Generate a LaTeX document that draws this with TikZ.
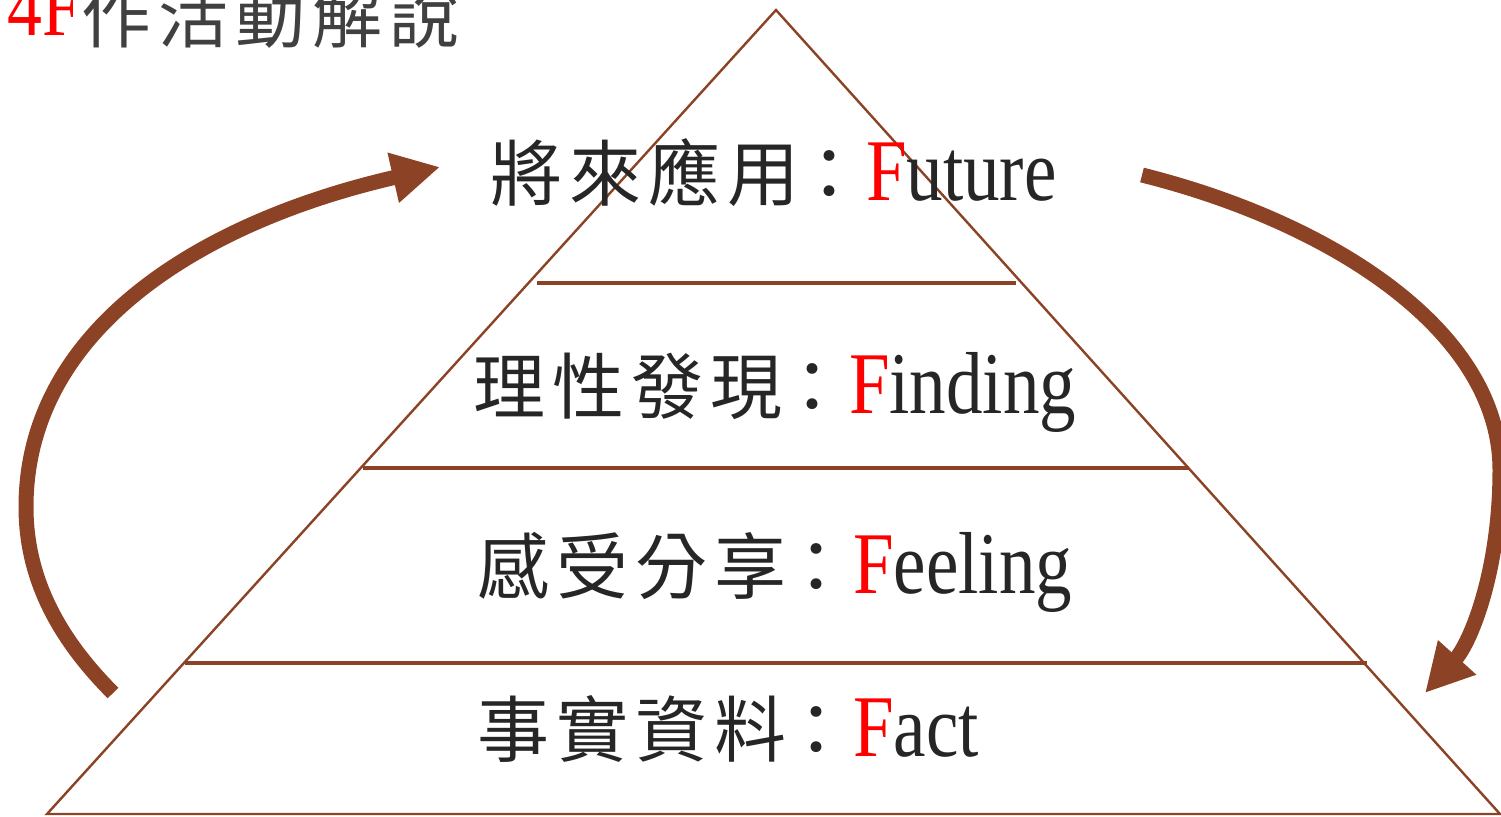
\documentclass[tikz,border=0pt]{standalone}
\usepackage{fontspec}
\setmainfont{Liberation Serif}[FakeStretch=0.83]
\newfontfamily\cjk{Noto Sans CJK TC}[LetterSpace=10]
\usepackage{tikz}
\usetikzlibrary{arrows.meta,positioning}
\tikzset{>={Triangle[length=24pt,width=24pt]}}
\definecolor{rust}{RGB}{140,66,36}
\definecolor{ink}{RGB}{38,38,38}
\definecolor{titlegray}{RGB}{64,64,64}
\newcommand\hanzi[1]{{\cjk\fontsize{36}{40}\selectfont #1}}
\newcommand\colonsep{\kern-3.5pt\hanzi{：}\kern0.5pt}
\newcommand\leadF{\textcolor{red}{F}}

\begin{document}
\begin{tikzpicture}[x=0.5pt,y=-0.5pt,
        pyr/.style={draw=rust,line width=1.2pt},
        tier/.style={draw=rust,line width=1.6pt},
        flow/.style={draw=rust,line width=7.5pt,->},
        heading/.style={anchor=base west,inner sep=0pt,font=\fontsize{42}{46}\selectfont},
        tier text/.style={anchor=base west,inner sep=0pt,text=ink,font=\fontsize{44}{48}\selectfont}]
    \useasboundingbox (0,0) rectangle (1501,816);

    \coordinate (apex) at (776,10);
    \coordinate (bl) at (47,814);
    \coordinate (br) at (1500,814);
    \draw[pyr] (apex) -- (bl) -- (br) -- cycle;

    \foreach \y/\a/\b in {283/537/1016,468/363/1189,663/185/1367}
        \draw[tier] (\a,\y) -- (\b,\y);

    \node[heading] (head) at (7,35)
        {\textcolor{red}{4F}\raisebox{-3.5pt}{\color{titlegray}\cjk\fontsize{35}{38}\selectfont 作活動解說}};

    \node[tier text] (future) at (490,200) {\hanzi{將來應用}\colonsep\leadF uture};
    \node[tier text] (finding) at (473,413) {\hanzi{理性發現}\colonsep\leadF inding};
    \node[tier text] (feeling) at (477,593) {\hanzi{感受分享}\colonsep\leadF eeling};
    \node[tier text] (fact) at (477,756) {\hanzi{事實資料}\colonsep\leadF act};

    \coordinate (up start) at (113,693);
    \coordinate (up end) at (440,167);
    \draw[flow] (up start) .. controls (60,640) and (26,580) .. (26,507)
        .. controls (26,330) and (200,222) .. (up end);

    \coordinate (down start) at (1142,175);
    \coordinate (down end) at (1425,693);
    \draw[flow] (down start) .. controls (1330,222) and (1500,330) .. (1500,470)
        .. controls (1500,570) and (1471,642) .. (down end);
\end{tikzpicture}
\end{document}
